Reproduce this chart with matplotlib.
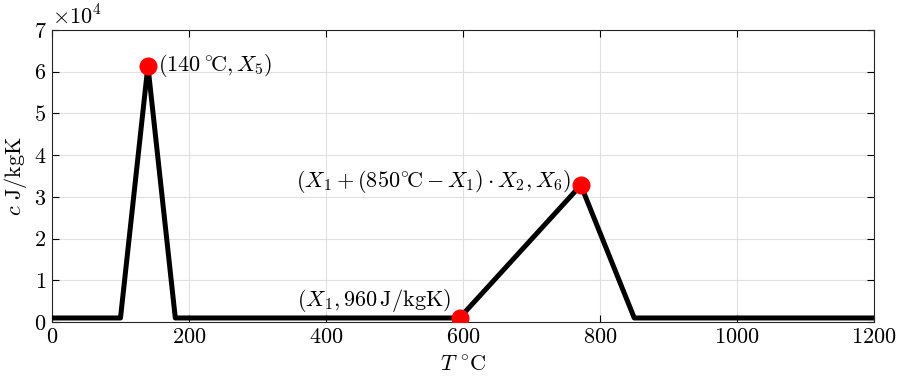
import matplotlib.pyplot as plt
from matplotlib.ticker import FuncFormatter

plt.rcParams['mathtext.fontset'] = 'cm'
plt.rcParams['font.family'] = 'serif'
plt.rcParams['font.serif'] = ['cmr10', 'DejaVu Serif']
plt.rcParams['axes.unicode_minus'] = False

# Curva de calor especifico
temp = [0, 100, 140, 180, 595, 772, 850, 1200]
calor = [960, 960, 61400, 960, 960, 32800, 960, 960]

# Puntos marcados
punto_t = [140, 595, 772]
punto_c = [61400, 960, 32800]

fig = plt.figure(figsize=(8.98, 3.83), dpi=100)
ax = fig.add_axes([0.0579, 0.1593, 0.9154, 0.7624])

ax.plot(temp, calor, color='black', linewidth=3.6, zorder=3)
ax.plot(punto_t, punto_c, 'o', color='red', markersize=12, zorder=4)

ax.set_xlim(0, 1200)
ax.set_ylim(0, 70000)
ax.set_xticks([0, 200, 400, 600, 800, 1000, 1200])
ax.set_yticks([0, 10000, 20000, 30000, 40000, 50000, 60000, 70000])
ax.xaxis.set_major_formatter(FuncFormatter(lambda v, p: r'$%d$' % v))
ax.yaxis.set_major_formatter(FuncFormatter(lambda v, p: r'$%d$' % (v / 1e4)))
ax.tick_params(direction='in', labelsize=16, length=5, width=0.8, top=True, right=True, pad=4)
ax.grid(True, color='#e0e0e0', linewidth=0.8)
ax.set_axisbelow(True)
for s in ax.spines.values():
    s.set_linewidth(0.8)
    s.set_color('#262626')

ax.text(0.0, 1.005, r'$\times 10^4$', transform=ax.transAxes, fontsize=16, va='bottom', ha='left')

ax.set_xlabel(r'$T\ ^{\circ}\mathrm{C}$', fontsize=16, labelpad=6)
ax.set_ylabel(r'$c\ \mathrm{J/kgK}$', fontsize=16, labelpad=3)

ax.text(155, 61400, r'$(140\,^{\circ}\!\mathrm{C},X_5)$', fontsize=16, va='center', ha='left')
ax.text(758, 33600, r'$(X_1+(850^{\circ}\!\mathrm{C}-X_1)\cdot X_2,X_6)$', fontsize=16, va='center', ha='right')
ax.text(583, 1800, r'$(X_1,960\,\mathrm{J/kgK})$', fontsize=16, va='bottom', ha='right')

fig.savefig('out.png', dpi=100)
